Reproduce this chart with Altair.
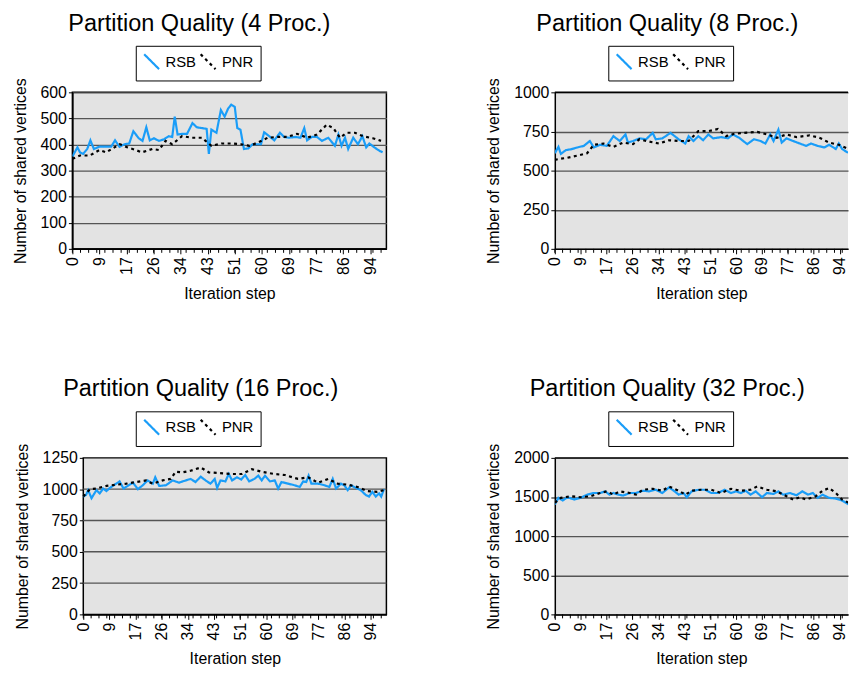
import altair as alt
import pandas as pd

FONT = "Liberation Sans"
SERIES = ["RSB", "PNR"]
COLORS = ["#1A9DF8", "#000000"]
DASHES = [[1, 0], [3, 3.5]]
PLOT_H = 158
BG = "#E3E3E3"
GRID = "#555555"

# x-axis: labels every 10 samples (sample spacing 6/7 of a step)
LABEL_POS = [i * 60 / 7 for i in range(12)]
MINOR_POS = [i * 18 / 7 for i in range(39)]

# ---- 4 processors ----
X_RSB_4 = [0, 1.6, 2.4, 3.4, 4.7, 5.7, 6.8, 8.6, 10.7, 12.3, 13.5, 14.9, 16.5, 18, 19.3, 21, 22.2, 23.4, 24.5, 25.8,
           27.4, 29, 30.5, 31.6, 32.4, 33.3, 34.7, 36.3, 38, 39.4, 41, 42.5, 43.2, 44, 45.6, 47, 48.2, 49.3, 50.3, 51.4,
           52.2, 53.2, 54.3, 55.7, 57, 59.7, 60.7, 62.3, 63.9, 65.7, 67, 68.5, 70.6, 72.2, 73.4, 74.3, 75.8, 77.4, 79, 81,
           83.1, 84.2, 85.2, 86.3, 87.3, 88.9, 90.4, 91.8, 93, 94, 95.6, 97.2, 98.2]
Y_RSB_4 = [354, 389, 370, 364, 383, 416, 383, 392, 392, 392, 416, 391, 401, 404, 451, 424, 414, 466, 416, 424,
           414, 420, 432, 429, 507, 438, 441, 441, 482, 466, 463, 460, 364, 457, 445, 532, 507, 538, 553, 544,
           463, 457, 383, 385, 401, 401, 447, 432, 416, 445, 429, 426, 429, 426, 463, 416, 429, 429, 414, 426,
           395, 438, 395, 426, 383, 426, 401, 432, 389, 404, 389, 376, 370]
X_PNR_4 = [0, 2.4, 5.5, 8.6, 10.7, 13.3, 15, 17.5, 20, 22, 25.3, 27.4, 29.5, 31.6, 34.7, 37.8, 41, 44, 47.2, 50.3,
           53.4, 56, 58.6, 61.8, 64.9, 68, 71.1, 74.3, 77.4, 80.5, 82.6, 84.7, 86.8, 89.4, 92, 95.1, 97.7]
Y_PNR_4 = [345, 358, 358, 379, 370, 389, 401, 389, 379, 370, 383, 379, 414, 401, 432, 426, 426, 395, 404, 404,
           401, 395, 407, 426, 429, 429, 441, 426, 438, 476, 463, 426, 445, 445, 432, 424, 414]

# ---- 8 processors ----
X_RSB_8 = [0, 1.2, 2, 3.7, 5.3, 7.5, 9.6, 11.6, 12.9, 15, 17.2, 19.4, 21.5, 23.4, 24.2, 25.9, 28, 30.2, 32.4, 33.4,
           35.6, 38.3, 41, 43.2, 44.3, 45.9, 47.5, 49.1, 50.8, 52.4, 55.1, 57.3, 58.9, 61, 63.7, 65.9, 68.1, 69.7, 71.3, 72.4,
           74, 75.1, 76.7, 78.9, 81.1, 83.2, 84.8, 87, 89.2, 90.8, 93, 94, 95.1, 96.8, 98.5]
Y_RSB_8 = [611, 652, 607, 631, 636, 648, 658, 689, 648, 665, 658, 720, 689, 731, 679, 689, 706, 700, 741, 700,
           706, 741, 700, 673, 720, 689, 720, 694, 731, 706, 714, 706, 731, 710, 669, 700, 689, 673, 731, 689,
           762, 679, 706, 689, 673, 658, 673, 658, 648, 665, 638, 673, 638, 617, 610]
X_PNR_8 = [0, 2, 4.2, 7.5, 10.7, 12.9, 16.1, 19.4, 22.6, 25.9, 28, 31.3, 34.5, 37.8, 41, 44.3, 47.5, 50.8, 54, 56.7,
           59.4, 62.7, 67, 70.2, 73.5, 76.7, 80, 84.3, 87.6, 90.8, 94, 97.3]
Y_PNR_8 = [569, 576, 582, 596, 611, 665, 673, 652, 679, 669, 700, 685, 673, 694, 689, 689, 752, 752, 766, 720,
           735, 741, 747, 731, 710, 731, 714, 725, 710, 679, 665, 638]

# ---- 16 processors ----
X_RSB_16 = [0, 0.9, 1.6, 2.7, 4.3, 5.4, 6.5, 7.6, 8.7, 10.3, 11.9, 13.2, 15.2, 16.3, 17.9, 19.5, 21.1, 22.8, 23.6, 24.9,
            27.1, 29.3, 31.4, 33.6, 35.2, 36.8, 38.5, 40.1, 41.7, 43.1, 43.9, 45, 46.6, 47.7, 48.8, 50.4, 51.8, 53.1, 54.4, 56.1,
            57.4, 58.5, 59.6, 61.2, 62.8, 63.9, 65, 67.2, 69.3, 71, 72.1, 73.1, 73.9, 74.8, 77, 79.1, 80.7, 81.8, 82.9, 84.5,
            85.6, 86.7, 87.8, 89.4, 91, 92.6, 93.7, 94.8, 95.9, 97, 97.7, 98.6]
Y_RSB_16 = [941, 954, 992, 928, 992, 966, 1005, 985, 1010, 1036, 1062, 1005, 1036, 1052, 1000, 1031, 1070, 1044, 1095, 1026,
            1031, 1070, 1052, 1070, 1082, 1057, 1100, 1070, 1044, 1082, 1010, 1070, 1062, 1121, 1070, 1095, 1077, 1113, 1062, 1082,
            1108, 1070, 1108, 1062, 1070, 1005, 1057, 1044, 1031, 1018, 1062, 1057, 1108, 1044, 1044, 1031, 1018, 1082, 1005, 1044,
            1031, 992, 1031, 1010, 992, 954, 941, 979, 941, 966, 941, 1000]
X_PNR_16 = [0, 2.2, 4.3, 7.6, 10.8, 14.1, 17.3, 20.6, 22.8, 26, 28.7, 30.3, 32.5, 35.2, 38.5, 41.2, 44.4, 48.8, 52, 55.3,
            58.5, 62.8, 66.1, 70.4, 73.7, 77, 80.3, 83.4, 86.7, 89.9, 93.2, 96.4, 98.6]
Y_PNR_16 = [941, 1000, 1005, 1026, 1036, 1044, 1057, 1070, 1044, 1070, 1082, 1139, 1134, 1147, 1173, 1134, 1129, 1121, 1121, 1160,
            1139, 1121, 1113, 1082, 1095, 1052, 1082, 1044, 1036, 1018, 985, 979, 992]

# ---- 32 processors ----
X_RSB_32 = [0, 1.2, 2.6, 4.2, 6.4, 8.5, 10.7, 12.9, 15, 16.7, 18.1, 19.4, 21, 22.6, 24.8, 26.9, 29.1, 31.3, 33.4, 35.6,
            37.8, 39.4, 41, 42.6, 43.7, 45.3, 47.5, 49.7, 51.8, 54, 56.2, 58.3, 60, 61.6, 63.2, 64.8, 66.5, 68.6, 70.2, 72.4,
            74, 75.6, 77.8, 80, 81.9, 83.8, 85.4, 87, 88.6, 90.8, 93, 95.1, 97.3]
Y_RSB_32 = [1405, 1489, 1455, 1497, 1468, 1489, 1530, 1551, 1551, 1572, 1530, 1551, 1530, 1518, 1551, 1551, 1580, 1572, 1593, 1551,
            1622, 1580, 1530, 1551, 1497, 1572, 1593, 1593, 1551, 1551, 1593, 1551, 1572, 1551, 1580, 1530, 1572, 1497, 1551, 1539,
            1572, 1530, 1551, 1522, 1572, 1530, 1551, 1489, 1530, 1489, 1480, 1455, 1405]
X_PNR_32 = [0, 2, 5.3, 8.5, 11.8, 15, 17.2, 19.4, 21.5, 24.8, 26.9, 29.1, 32.4, 35.6, 37.8, 41, 43.2, 45.3, 48.5, 51.8,
            55, 58.3, 61.6, 64.8, 67, 70.2, 73.5, 76.7, 78.9, 81.1, 83.2, 86.4, 88.6, 90.8, 93, 95.1, 97.3]
Y_PNR_32 = [1426, 1489, 1510, 1497, 1510, 1551, 1572, 1530, 1572, 1551, 1530, 1593, 1605, 1580, 1634, 1580, 1530, 1580, 1593, 1593,
            1551, 1605, 1580, 1593, 1634, 1593, 1572, 1510, 1468, 1497, 1468, 1510, 1580, 1614, 1551, 1468, 1426]


def panel(procs, xr, yr, xp, yp, ymax, ystep, width, xmax, legend_x, inset=0, open_right=False):
    df = pd.concat([
        pd.DataFrame({"step": xr, "value": yr, "series": "RSB"}),
        pd.DataFrame({"step": xp, "value": yp, "series": "PNR"}),
    ], ignore_index=True)
    ticks = pd.DataFrame({"step": [t for t in MINOR_POS if t <= xmax]})
    yvals = list(range(0, ymax + 1, ystep))

    x_axis = dict(
        values=LABEL_POS, labelExpr="round(datum.value)", labelAngle=270,
        title="Iteration step", grid=False, tickSize=5, labelPadding=3,
        titlePadding=11, labelOverlap=False, labelFlush=False, labelBound=False,
    )
    x_scale = dict(domain=[0, xmax], nice=False, zero=False)
    y_axis = dict(
        values=yvals, format="d", title="Number of shared vertices",
        grid=inset == 0, tickSize=4, labelPadding=2, titlePadding=12,
    )
    if inset:
        x_scale["range"] = [inset, width]
        x_axis["titleX"] = inset + (width - inset) / 2
        y_axis["offset"] = -inset

    x_enc = alt.X("step:Q", scale=alt.Scale(**x_scale), axis=alt.Axis(**x_axis))
    y_enc = alt.Y("value:Q", scale=alt.Scale(domain=[0, ymax], nice=False), axis=alt.Axis(**y_axis))

    legend = alt.Legend(
        title=None, orient="none", legendX=legend_x, legendY=-47, direction="horizontal",
    )
    lines = alt.Chart(df).mark_line(strokeWidth=2.2, clip=True).encode(
        x=x_enc,
        y=y_enc,
        color=alt.Color("series:N", scale=alt.Scale(domain=SERIES, range=COLORS), legend=legend),
        strokeDash=alt.StrokeDash("series:N", scale=alt.Scale(domain=SERIES, range=DASHES), legend=legend),
    )
    minor = alt.Chart(ticks).mark_rule(color="black", strokeWidth=1).encode(
        x=x_enc,
        y=alt.value(PLOT_H),
        y2=alt.value(PLOT_H + 4),
    )
    layers = [minor, lines]
    props = {}
    if inset:
        # narrower plot frame inside the column: own background and grid
        bg = alt.Chart(pd.DataFrame({"k": [0]})).mark_rect(
            fill=BG, stroke="black", strokeWidth=1.5
        ).encode(
            x=alt.value(inset), x2=alt.value(width), y=alt.value(0), y2=alt.value(PLOT_H)
        )
        grid = alt.Chart(pd.DataFrame({"value": yvals[1:-1]})).mark_rule(
            color=GRID, strokeWidth=1.4
        ).encode(
            y=y_enc, x=alt.value(inset), x2=alt.value(width)
        )
        layers = [bg, grid, minor, lines]
        props["view"] = alt.ViewBackground(fill="transparent", stroke="transparent")
    elif open_right:
        # plot runs on past the page edge: no closing frame on the right
        top = alt.Chart(pd.DataFrame({"k": [0]})).mark_rule(color="black", strokeWidth=1.5).encode(
            x=alt.value(0), x2=alt.value(width), y=alt.value(0)
        )
        layers = [minor, top, lines]
        props["view"] = alt.ViewBackground(fill=BG, stroke="transparent")
    return alt.layer(*layers).properties(
        width=width, height=PLOT_H,
        title=alt.TitleParams(
            f"Partition Quality ({procs} Proc.)", fontSize=23.7, font=FONT, fontWeight="normal",
            anchor="middle", frame="bounds", offset=10, color="black",
        ),
        **props,
    )


p4 = panel(4, X_RSB_4, Y_RSB_4, X_PNR_4, Y_PNR_4, 600, 100, 317, 99.4, 64)
p8 = panel(8, X_RSB_8, Y_RSB_8, X_PNR_8, Y_PNR_8, 1000, 250, 296, 97.05, 54, open_right=True)
p16 = panel(16, X_RSB_16, Y_RSB_16, X_PNR_16, Y_PNR_16, 1250, 250, 317, 99.4, 64, inset=11)
p32 = panel(32, X_RSB_32, Y_RSB_32, X_PNR_32, Y_PNR_32, 2000, 500, 296, 97.05, 54, open_right=True)

chart = alt.concat(
    p4, p8, p16, p32, columns=2, align="each", spacing={"row": 75, "column": 97},
).resolve_legend(color="independent", strokeDash="independent").resolve_scale(
    x="independent", y="independent", color="independent", strokeDash="independent"
).properties(
    padding={"left": 3, "top": 0, "right": 0, "bottom": 0},
    background="white",
).configure_view(
    fill=BG, stroke="black", strokeWidth=1.5,
).configure_axis(
    labelFont=FONT, titleFont=FONT, labelFontSize=16, titleFontSize=16,
    titleFontWeight="normal", labelColor="black", titleColor="black",
    domainColor="black", domainWidth=1.5, tickColor="black", tickWidth=1,
    gridColor=GRID, gridWidth=1.4,
).configure_legend(
    labelFont=FONT, labelFontSize=15, labelColor="black",
    strokeColor="black", fillColor="white", padding=7,
    symbolType="M-1,-1L1,1", symbolSize=225, symbolStrokeWidth=2.2,
    labelOffset=5, columnPadding=0, symbolFillColor="transparent",
)

chart.save("out.html", embed_options={"renderer": "svg", "actions": False})
